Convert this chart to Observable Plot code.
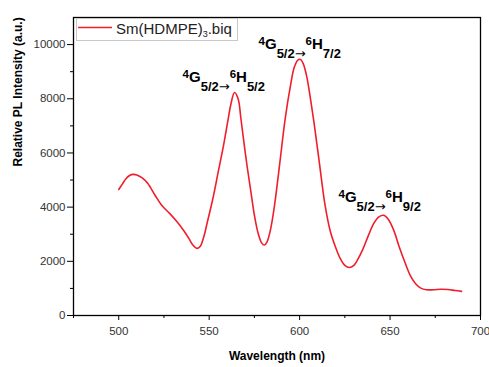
<!DOCTYPE html>
<html>
<head>
<meta charset="utf-8">
<script src="https://cdn.jsdelivr.net/npm/d3@7"></script>
<script src="https://cdn.jsdelivr.net/npm/@observablehq/plot@0.6"></script>
<style>
  html, body { margin: 0; padding: 0; background: #fff; }
  #chart { width: 489px; height: 367px; position: relative; }
</style>
</head>
<body>
<div id="chart"></div>
<script>
// ---- data ----
const wavelength = [500, 502, 504, 506, 508, 510, 513, 516, 520, 524, 528, 532, 536, 539, 541, 543, 545, 547, 549, 552, 555, 558, 560.5, 562, 564, 566, 567.5, 569, 571, 573, 575, 577, 579, 580.5, 582, 584, 586, 589, 592, 595, 597, 599, 600.5, 602, 604, 606, 608, 611, 614, 617, 620, 622.5, 625, 627.5, 630, 632, 635, 638, 641, 644, 646.5, 649, 652, 655, 658, 661, 664, 667, 670, 674, 678, 682, 686, 689.5];
const intensity = [4650, 4850, 5050, 5170, 5210, 5190, 5080, 4880, 4450, 4050, 3780, 3480, 3130, 2820, 2600, 2480, 2550, 2900, 3450, 4300, 5300, 6300, 7250, 7800, 8230, 8000, 7300, 6500, 5500, 4600, 3700, 3050, 2680, 2600, 2720, 3200, 4000, 5600, 7250, 8500, 9150, 9430, 9450, 9300, 8800, 8000, 7100, 5600, 4100, 3100, 2500, 2100, 1850, 1770, 1850, 2050, 2450, 2950, 3400, 3650, 3700, 3550, 3150, 2550, 2000, 1500, 1180, 1010, 950, 950, 970, 960, 920, 890];
const seriesName = ["Sm(HDMPE)", "3", ".biq"]; // main, subscript, suffix
const xMajorTicks = [500, 550, 600, 650, 700];
const xMinorTicks = [475, 525, 575, 625, 675];
const yMajorTicks = [0, 2000, 4000, 6000, 8000, 10000];
const yMinorTicks = [1000, 3000, 5000, 7000, 9000];
const xLabel = "Wavelength (nm)";
const yLabel = "Relative PL Intensity (a.u.)";
// transitions 4G5/2 -> 6HJ
const transitionJ = ["5/2", "7/2", "9/2"];
const transitionX = [535.3, 577.3, 621.5];
const transitionY = [8635, 9845, 4180];

const lineColor = "#f01e2c";
const data = wavelength.map((w, i) => ({w, v: intensity[i]}));
const annots = transitionJ.map((j, i) => ({j, x: transitionX[i], y: transitionY[i]}));

const W = 489, H = 367;
const mL = 73, mR = 9, mT = 17, mB = 52;

const chart = Plot.plot({
  width: W,
  height: H,
  marginLeft: mL,
  marginRight: mR,
  marginTop: mT,
  marginBottom: mB,
  style: {fontFamily: "Liberation Sans, Arial, sans-serif", fontSize: "11.5px"},
  x: {domain: [475, 700]},
  y: {domain: [0, 11000]},
  marks: [
    Plot.axisX(xMajorTicks, {tickSize: 5, tickPadding: 6, tickFormat: d => String(d), label: null, fill: "#333"}),
    Plot.axisX(xMinorTicks, {tickSize: 3, tickFormat: () => "", label: null}),
    Plot.axisY(yMajorTicks, {tickSize: 6, tickPadding: 2, tickFormat: d => String(d), label: null, fill: "#333"}),
    Plot.axisY(yMinorTicks, {tickSize: 3, tickFormat: () => "", label: null}),
    Plot.line(data, {x: "w", y: "v", stroke: lineColor, strokeWidth: 1.6, curve: "catmull-rom"}),
    Plot.text(annots, {x: "x", y: "y", text: d => "TRANS|" + d.j, textAnchor: "start", fill: "#000", fontWeight: "bold"}),
    Plot.frame({stroke: "#000", strokeWidth: 1.3}),
    Plot.text([xLabel], {frameAnchor: "bottom", dy: 44, fontWeight: "bold", fontSize: 12, fill: "#000"}),
    Plot.text([yLabel], {frameAnchor: "left", rotate: -90, dx: -55, fontWeight: "bold", fontSize: 12, fill: "#000"})
  ]
});

document.getElementById("chart").appendChild(chart);

// rich-text transitions
const svg = d3.select(chart);
svg.selectAll("text").filter(function() { return (this.textContent || "").startsWith("TRANS|"); }).each(function() {
  const t = d3.select(this);
  const j = this.textContent.split("|")[1];
  t.attr("dy", null).attr("y", null).text(null);
  const parts = [
    {s: "4", size: 11.5, dy: -4},
    {s: "G", size: 15, dy: 4},
    {s: "5/2", size: 13, dy: 9},
    {s: "→", size: 13, dy: 0, w: "normal", f: "DejaVu Sans"},
    {s: "6", size: 11.5, dy: -13},
    {s: "H", size: 15, dy: 4},
    {s: j, size: 13, dy: 9}
  ];
  parts.forEach(p => {
    const ts = t.append("tspan").style("font-size", p.size + "px").attr("dy", p.dy)
      .style("font-weight", p.w || "bold").text(p.s);
    if (p.f) ts.style("font-family", p.f);
  });
});

// legend box inside the frame (top-left)
const lg = svg.append("g").attr("font-family", "Liberation Sans, Arial, sans-serif").attr("text-anchor", "start");
lg.append("rect").attr("x", mL + 3.5).attr("y", mT + 1.5).attr("width", 161).attr("height", 22)
  .attr("fill", "#fff").attr("stroke", "#c8c8c8").attr("stroke-width", 1);
lg.append("line").attr("x1", mL + 5).attr("x2", mL + 39).attr("y1", mT + 10.5).attr("y2", mT + 10.5)
  .attr("stroke", lineColor).attr("stroke-width", 1.4);
const lt = lg.append("text").attr("x", mL + 43).attr("y", mT + 17).style("font-size", "15px").attr("fill", "#222");
lt.append("tspan").text(seriesName[0]);
lt.append("tspan").style("font-size", "9px").attr("dy", 3).text(seriesName[1]);
lt.append("tspan").attr("dy", -3).text(seriesName[2]);
</script>
</body>
</html>
